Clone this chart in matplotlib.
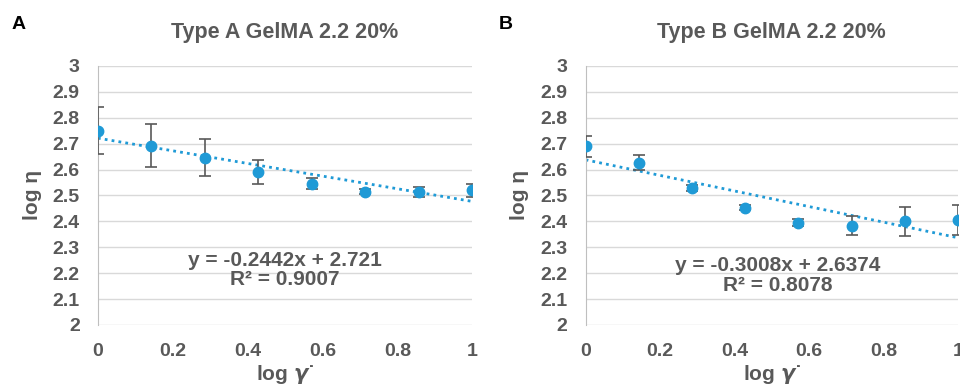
import numpy as np
import matplotlib.pyplot as plt
from matplotlib.ticker import FuncFormatter

# x positions (log shear rate)
x = np.array([0, 1/7, 2/7, 3/7, 4/7, 5/7, 6/7, 1.0])

# panel A data
ya = np.array([2.75, 2.692, 2.646, 2.59, 2.545, 2.515, 2.513, 2.52])
ea = np.array([0.09, 0.083, 0.072, 0.046, 0.022, 0.01, 0.02, 0.025])
slope_a, icpt_a, r2_a = -0.2442, 2.721, "0.9007"

# panel B data
yb = np.array([2.689, 2.627, 2.53, 2.452, 2.395, 2.383, 2.4, 2.405])
eb = np.array([0.04, 0.028, 0.012, 0.01, 0.013, 0.036, 0.056, 0.057])
slope_b, icpt_b, r2_b = -0.3008, 2.6374, "0.8078"

titles = ["Type A GelMA 2.2 20%", "Type B GelMA 2.2 20%"]
letters = ["A", "B"]

plt.rcParams['font.family'] = ['Liberation Sans', 'DejaVu Sans']
grey = "#595959"
blue = "#1f9ad6"

fig = plt.figure(figsize=(9.6, 3.92), dpi=100)
axA = fig.add_axes([0.102, 0.171, 0.390, 0.661])
axB = fig.add_axes([0.610, 0.171, 0.388, 0.661])

panels = [(axA, ya, ea, slope_a, icpt_a, r2_a, "%.4fx + %.3f", (0.5, 0.212)),
          (axB, yb, eb, slope_b, icpt_b, r2_b, "%.4fx + %.4f", (0.516, 0.19))]

for i, (ax, y, e, m, b, r2, fmt, tpos) in enumerate(panels):
	ax.set_xlim(0, 1)
	ax.set_ylim(2, 3)
	ax.set_yticks(np.arange(2, 3.01, 0.1))
	ax.set_xticks(np.arange(0, 1.01, 0.2))
	ax.yaxis.set_major_formatter(FuncFormatter(lambda v, p: "%g" % round(v, 1)))
	ax.xaxis.set_major_formatter(FuncFormatter(lambda v, p: "%g" % round(v, 1)))
	ax.grid(axis="y", color="#d9d9d9", lw=1)
	ax.set_axisbelow(True)
	for s in ["top", "right", "bottom"]:
		ax.spines[s].set_visible(False)
	ax.spines["left"].set_color("#bfbfbf")
	ax.tick_params(length=0, labelsize=14, labelcolor=grey, pad=13)
	for lab in ax.get_xticklabels() + ax.get_yticklabels():
		lab.set_fontweight("bold")

	xx = np.linspace(0, 1, 50)
	ax.plot(xx, m*xx + b, ls=(0, (1, 1.5)), color=blue, lw=2)
	ax.errorbar(x, y, yerr=e, fmt="o", color=blue, ms=7.5, ecolor="#595959",
		elinewidth=1.2, capsize=4, capthick=1.2, zorder=3)

	eq = ("y = " + fmt % (m, b)) + "\nR² = " + r2
	ax.text(tpos[0], tpos[1], eq, transform=ax.transAxes, ha="center", va="center",
		fontsize=15, fontweight="bold", color=grey, linespacing=1.05)
	ax.set_title(titles[i], fontsize=15.5, fontweight="bold", color=grey, pad=20)
	ax.set_ylabel("log η", fontsize=15, fontweight="bold", color=grey, labelpad=8)
	ax.set_xlabel("log $\\boldsymbol{\\gamma}$˙", fontsize=15, fontweight="bold", color=grey, labelpad=2)

fig.text(0.012, 0.925, letters[0], fontsize=14, fontweight="bold")
fig.text(0.52, 0.925, letters[1], fontsize=14, fontweight="bold")

plt.savefig("out.png", dpi=100)
